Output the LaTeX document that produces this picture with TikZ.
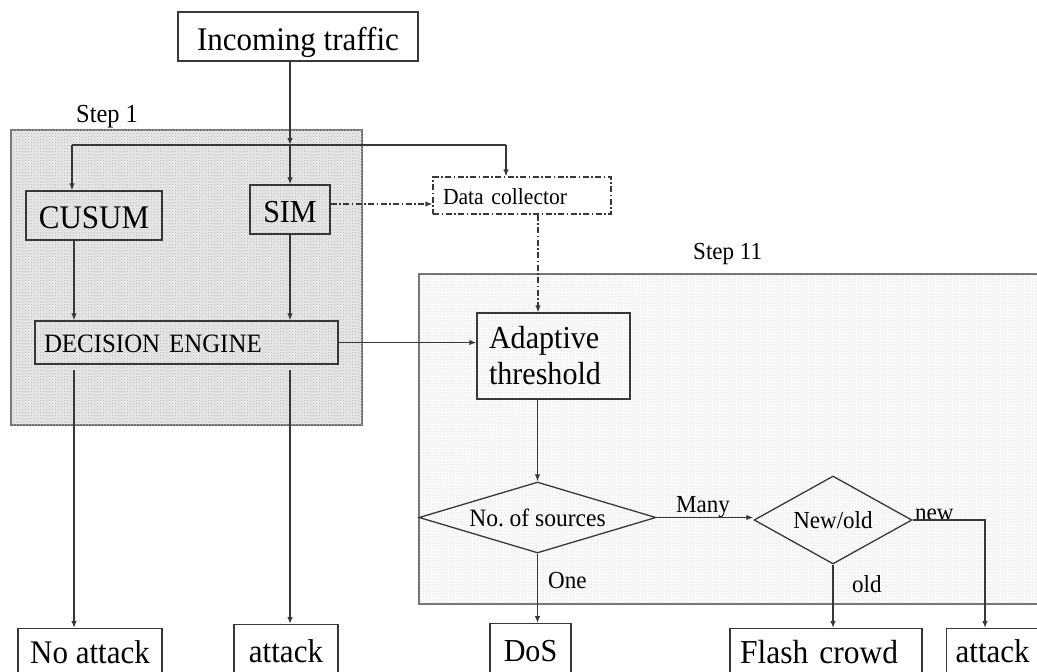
\documentclass[tikz,border=0pt]{standalone}
\usepackage{fontspec}
\setmainfont{Liberation Serif}[FakeStretch=0.94]
\usetikzlibrary{arrows.meta,shapes.geometric,patterns,calc}
\tikzset{
  ln/.style={draw=black!78, line width=1.3pt},
  arr/.style={ln, -{Latex[length=7pt,width=5.5pt]}},
  box/.style={rectangle, draw=black!78, line width=1.3pt, inner sep=0pt, fill=white},
  tbox/.style={rectangle, draw=black!78, line width=1.3pt, inner sep=0pt},
  td/.style={text depth=0pt, text height=#1},
  dd/.style={dash pattern=on 6pt off 2.5pt on 1.5pt off 2.5pt},
  fs/.style={font=\fontsize{#1pt}{36pt}\selectfont},
  dia/.style={diamond, draw=black!78, line width=1.3pt, inner sep=0pt},
  stepone/.style={draw=black!55, line width=1.5pt, fill=gray!18,
     postaction={pattern=crosshatch dots, pattern color=gray!55}},
  steptwo/.style={draw=black!55, line width=1.5pt, fill=gray!4,
     postaction={pattern=dots, pattern color=gray!40}},
}
\begin{document}
\begin{tikzpicture}[x=1pt, y=-1pt]
\useasboundingbox (0,0) rectangle (1037,672);
\clip (0,0) rectangle (1037,672);

% step regions
\node[stepone, rectangle, inner sep=0pt, minimum width=351pt, minimum height=295pt, anchor=north west] (s1box) at (10,129) {};
\node[steptwo, rectangle, inner sep=0pt, minimum width=640pt, minimum height=330pt, anchor=north west] (s2box) at (418,273) {};
\node[fs=26, anchor=base west, inner sep=0pt] (s1lbl) at (76,122) {Step 1};
\node[fs=24.5, anchor=base west, inner sep=0pt] (s2lbl) at (693,259) {Step 11};

% boxes
\node[box, fs=33, td=27pt, minimum width=240pt, minimum height=49pt] (inc) at (298,36.5) {Incoming traffic};
\node[tbox, fs=33, td=25pt, minimum width=136pt, minimum height=49pt] (cusum) at (94,215.5) {CUSUM};
\node[tbox, fs=32, td=25pt, minimum width=80pt, minimum height=49pt] (sim) at (290,209.5) {SIM};
\node[tbox, fs=26.5, td=19pt, minimum width=303pt, minimum height=43pt, text width=285pt, inner xsep=9pt, align=left] (de) at (186.5,342.5) {DECISION ENGINE};
\node[box, dd, fs=23, td=17pt, minimum width=178pt, minimum height=37pt, text width=158pt, inner xsep=10pt, align=left] (dc) at (522,195.5) {Data collector};
\node[tbox, fs=32, minimum width=153pt, minimum height=86pt, text width=129pt, inner xsep=12pt, align=left] (adapt) at (553.5,356) {Adaptive\\threshold};

% decisions
\node[dia, fs=25, aspect=3.34, minimum width=237pt, minimum height=71pt] (nos) at (537.5,517.5) {No.\ of sources};
\node[dia, fs=24.5, aspect=1.8, minimum width=158pt, minimum height=88pt] (nw) at (833,520) {New/old};

% outcomes
\node[box, fs=33, td=21pt, minimum width=144pt, minimum height=49pt, anchor=north] (noatk) at (90,628) {No attack};
\node[box, fs=33, td=21pt, minimum width=104pt, minimum height=55pt, anchor=north] (atk1) at (286,624) {attack};
\node[box, fs=32, td=20.5pt, minimum width=81pt, minimum height=55.5pt, anchor=north] (dos) at (530.5,623) {DoS};
\node[box, fs=33.5, td=21.5pt, minimum width=192pt, minimum height=49pt, text width=172pt, inner xsep=10pt, align=left, anchor=north] (flash) at (826,628) {Flash crowd};
\node[box, fs=33, td=21pt, minimum width=100pt, minimum height=47pt, text width=82pt, inner xsep=9pt, align=left, anchor=north west] (atk2) at (946,628) {attack};

% branch labels
\node[fs=24.5, anchor=base west, inner sep=0pt] (lmany) at (676,512) {Many};
\node[fs=24.5, anchor=base west, inner sep=0pt] (lnew) at (915,520) {new};
\node[fs=24.5, anchor=base west, inner sep=0pt] (lone) at (548,588) {One};
\node[fs=24.5, anchor=base west, inner sep=0pt] (lold) at (852,592) {old};

% helper coordinates
\coordinate (j) at (290,145);
\coordinate (jl) at (72,145);
\coordinate (jr) at (506,145);
\coordinate (xl) at (74,0);
\coordinate (xa) at (538,0);
\coordinate (xr) at (985,0);

% connectors
\draw[arr] (inc.south -| j) -- (j);
\draw[ln] (jl) -- (jr);
\draw[arr] (j) -- (sim.north);
\draw[arr] (jl) -- (jl |- cusum.north);
\draw[arr] (jr) -- (jr |- dc.north);
\draw[arr] (cusum.south -| xl) -- (de.north -| xl);
\draw[arr] (sim.south) -- (de.north -| sim.south);
\draw[arr] ($(de.south -| xl)+(0,5)$) -- (noatk.north -| xl);
\draw[arr] ($(de.south -| sim.south)+(0,5)$) -- (atk1.north -| sim.south);
\draw[arr] (de.east) -- (adapt.west |- de.east);
\draw[arr, dd] ($(sim.east)+(0,-5.5)$) -- ($(dc.west |- sim.east)+(0,-5.5)$);
\draw[arr, dd] (dc.south -| xa) -- (adapt.north -| xa);
\draw[arr] (adapt.south -| nos.north) -- (nos.north);
\draw[arr] (nos.east) -- (nos.east -| nw.west);
\draw[arr] (nos.south) -- (dos.north -| nos.south);
\draw[arr] (nw.south) -- (flash.north -| nw.south);
\draw[arr] (nw.east) -| (atk2.north -| xr);
\end{tikzpicture}
\end{document}
